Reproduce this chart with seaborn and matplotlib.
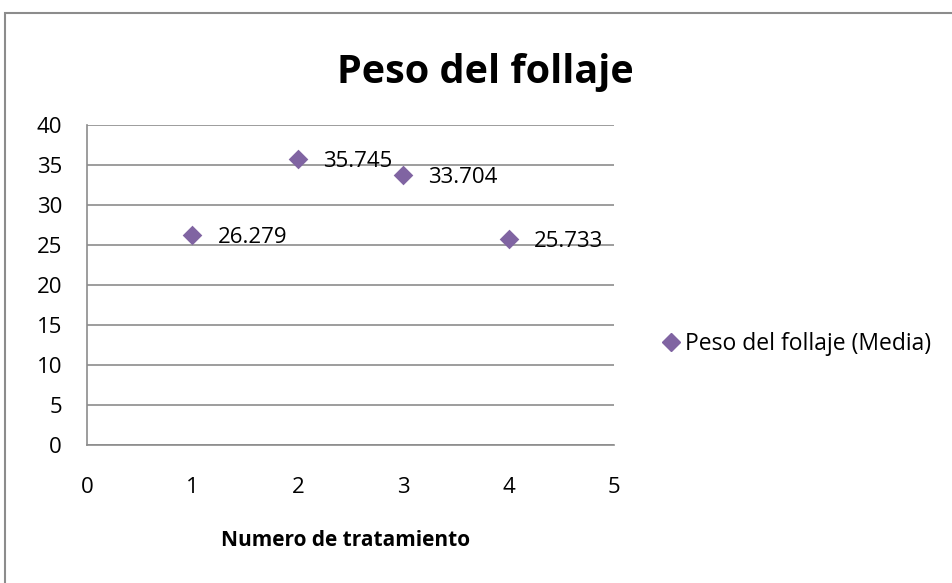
import matplotlib
matplotlib.use("Agg")
import matplotlib.pyplot as plt
import seaborn as sns
import pandas as pd
from matplotlib.patches import Rectangle
from matplotlib.lines import Line2D

tratamiento = [1, 2, 3, 4]
media = [26.279, 35.745, 33.704, 25.733]
etiquetas = ["26.279", "35.745", "33.704", "25.733"]
serie = "Peso del follaje (Media)"
xticks = [0, 1, 2, 3, 4, 5]
yticks = [0, 5, 10, 15, 20, 25, 30, 35, 40]

sns.set_theme(style="white")
plt.rcParams['font.family'] = ['Open Sans', 'DejaVu Sans']
plt.rcParams['text.color'] = 'black'
plt.rcParams['axes.labelcolor'] = 'black'
plt.rcParams['xtick.color'] = 'black'
plt.rcParams['ytick.color'] = 'black'

df = pd.DataFrame({"x": tratamiento, "y": media})

W, H = 953, 583
fig = plt.figure(figsize=(9.53, 5.83), dpi=100)
fig.patch.set_facecolor("white")
# outer chart frame
fig.patches.append(Rectangle((5/W, -0.05), 1.0, 1 - 13/H + 0.05, transform=fig.transFigure,
                             fill=False, edgecolor="#8c8c8c", linewidth=1.5))

ax = fig.add_axes([87/W, 1 - 445/H, (614 - 87)/W, (445 - 125)/H])
color = "#8064A2"
sns.scatterplot(data=df, x="x", y="y", marker="D", s=100, color=color, edgecolor=color,
                linewidth=0, ax=ax, zorder=3, legend=False)

for xi, yi, t in zip(tratamiento, media, etiquetas):
    ax.annotate(t, (xi, yi), xytext=(18, 0), textcoords="offset points",
                ha="left", va="center_baseline", fontsize=16, color="black")

ax.set_xlim(0, 5)
ax.set_ylim(0, 40)
ax.set_xticks(xticks)
ax.set_yticks(yticks)
ax.tick_params(axis="both", labelsize=16, length=0)
ax.tick_params(axis="x", pad=23)
ax.tick_params(axis="y", pad=18)
ax.grid(axis="y", color="#8c8c8c", linewidth=1.2)
ax.grid(axis="x", visible=False)
for s in ["top", "right"]:
    ax.spines[s].set_visible(False)
for s in ["left", "bottom"]:
    ax.spines[s].set_color("#8c8c8c")
    ax.spines[s].set_linewidth(1.2)
ax.set_xlabel("Numero de tratamiento", fontsize=15, fontweight="bold")
ax.xaxis.set_label_coords(0.49, (445 - 541) / 320)
ax.xaxis.label.set_verticalalignment("center")
ax.set_ylabel("")

fig.text(485/W, 1 - 83/H, "Peso del follaje", ha="center", va="baseline",
         fontsize=28.5, fontweight="bold", color="black")

handle = Line2D([], [], marker="D", linestyle="none", markersize=9.5,
                markerfacecolor=color, markeredgecolor=color)
fig.legend([handle], [serie], loc="center left", bbox_to_anchor=(660/W, 1 - 344/H),
           frameon=False, fontsize=16.5, handletextpad=0.13, borderaxespad=0,
           borderpad=0, handlelength=0.96)

fig.savefig("out.png", dpi=100)
